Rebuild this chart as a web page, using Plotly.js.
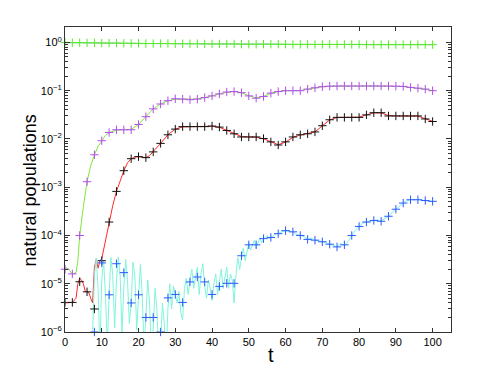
<!DOCTYPE html>
<html>
<head>
<meta charset="utf-8">
<script src="https://cdn.plot.ly/plotly-3.0.1.min.js"></script>
<style>
  html, body { margin: 0; padding: 0; background: #fff; }
  #chart { width: 498px; height: 375px; }
</style>
</head>
<body>
<div id="chart"></div>
<script>
// sample times of the simulated populations (markers)
var tMark = [0, 2, 4, 6, 8, 10, 12, 14, 16, 18, 20, 22, 24, 26, 28, 30, 32, 34, 36, 38, 40,
    42, 44, 46, 48, 50, 52, 54, 56, 58, 60, 62, 64, 66, 68, 70, 72, 74, 76, 78, 80,
    82, 84, 86, 88, 90, 92, 94, 96, 98, 100];

var greenMark = [1.0, 0.99, 0.99, 0.98, 0.98, 0.97, 0.97, 0.97, 0.96, 0.96, 0.96,
    0.95, 0.95, 0.95, 0.95, 0.94, 0.94, 0.94, 0.94, 0.93, 0.93,
    0.93, 0.93, 0.93, 0.92, 0.92, 0.92, 0.92, 0.92, 0.92, 0.92,
    0.91, 0.91, 0.91, 0.91, 0.91, 0.91, 0.91, 0.91, 0.91, 0.91,
    0.90, 0.90, 0.90, 0.90, 0.90, 0.90, 0.90, 0.90, 0.90, 0.90];

var purpleMark = [2.0e-5, 1.6e-5, 1.0e-4, 1.3e-3, 4.7e-3, 9.2e-3, 0.0136, 0.0155, 0.0155, 0.0155, 0.020,
    0.029, 0.042, 0.053, 0.062, 0.068, 0.067, 0.065, 0.067, 0.072, 0.078,
    0.086, 0.094, 0.096, 0.091, 0.078, 0.070, 0.076, 0.089, 0.096, 0.100,
    0.100, 0.100, 0.108, 0.115, 0.121, 0.124, 0.125, 0.125, 0.125, 0.125,
    0.125, 0.125, 0.125, 0.125, 0.124, 0.123, 0.117, 0.113, 0.108, 0.100];

var blackMark = [4.1e-6, 4.1e-6, 1.1e-5, 6.8e-6, 3.0e-6, 3.0e-5, 1.9e-4, 8.2e-4, 2.2e-3, 3.9e-3, 4.3e-3,
    4.1e-3, 5.4e-3, 8.1e-3, 0.0122, 0.016, 0.018, 0.018, 0.018, 0.018, 0.0185,
    0.0176, 0.015, 0.0128, 0.011, 0.011, 0.011, 0.0102, 0.0087, 0.0075, 0.0087,
    0.011, 0.0122, 0.0128, 0.014, 0.0188, 0.025, 0.028, 0.028, 0.028, 0.028,
    0.0316, 0.035, 0.035, 0.030, 0.030, 0.030, 0.030, 0.030, 0.026, 0.023];

var blueMark = [null, null, null, null, 1.0e-6, 2.7e-5, 5.9e-6, 2.6e-5, 1.7e-5, 4.0e-6, 5.9e-6,
    2.0e-6, 2.0e-6, 1.0e-6, 5.1e-6, 6.0e-6, 4.1e-6, 1.09e-5, 1.38e-5, 1.09e-5, 6.0e-6,
    8.8e-6, 1.02e-5, 1.02e-5, 3.8e-5, 6.4e-5, 6.4e-5, 8.6e-5, 9.1e-5, 1.09e-4, 1.26e-4,
    1.19e-4, 1.0e-4, 8.3e-5, 8.0e-5, 7.4e-5, 6.6e-5, 5.8e-5, 6.4e-5, 1.0e-4, 1.54e-4,
    1.9e-4, 2.05e-4, 1.97e-4, 2.5e-4, 3.5e-4, 4.7e-4, 5.5e-4, 5.5e-4, 5.3e-4, 5.1e-4];

// exact (deterministic) solutions drawn as lines
var topLine = [0.99, 0.99, 0.98, 0.98, 0.97, 0.97, 0.97, 0.96, 0.96, 0.96, 0.95,
    0.95, 0.95, 0.95, 0.94, 0.94, 0.94, 0.94, 0.93, 0.93, 0.93,
    0.93, 0.93, 0.92, 0.92, 0.92, 0.92, 0.92, 0.92, 0.92, 0.91,
    0.91, 0.91, 0.91, 0.91, 0.91, 0.91, 0.91, 0.91, 0.91, 0.90,
    0.90, 0.90, 0.90, 0.90, 0.90, 0.90, 0.90, 0.90, 0.90, 0.90];

var tGreen = [0, 1, 2, 3, 3.5, 4, 5, 6, 7, 8, 9, 10, 11, 12, 14, 16, 18, 20, 22, 24, 26, 28, 30,
    32, 34, 36, 38, 40, 42, 44, 46, 48, 50, 52, 54, 56, 58, 60, 62, 64, 66, 68, 70,
    72, 74, 76, 78, 80, 82, 84, 86, 88, 90, 92, 94, 96, 98, 100];
var greenLine = [2.2e-5, 2.0e-5, 1.6e-5, 1.7e-5, 3.0e-5, 1.0e-4, 4.0e-4, 1.3e-3, 2.8e-3, 4.7e-3, 7.0e-3, 9.2e-3, 0.0118, 0.0136,
    0.0152, 0.0155, 0.0158, 0.020, 0.029, 0.042, 0.053, 0.062, 0.067,
    0.067, 0.066, 0.067, 0.072, 0.078, 0.086, 0.093, 0.096, 0.091, 0.079, 0.071, 0.076, 0.088, 0.096, 0.100,
    0.100, 0.101, 0.107, 0.115, 0.121, 0.124, 0.125, 0.125, 0.125, 0.125, 0.125, 0.125, 0.125, 0.125,
    0.124, 0.122, 0.117, 0.113, 0.107, 0.100];

var tRed = [0, 1, 2, 3, 3.5, 4, 4.5, 5, 5.5, 6, 6.5, 7, 7.5, 8, 8.5, 9, 9.5, 10, 11, 12, 13, 14, 15, 16, 17, 18, 19,
    20, 21, 22, 23, 24, 26, 28, 30, 32, 34, 36, 38, 40, 42, 44, 46, 48, 50, 52, 54, 56, 58, 60,
    62, 64, 66, 68, 70, 72, 74, 76, 78, 80, 82, 84, 86, 88, 90, 92, 94, 96, 98, 100];
var redLine = [4.0e-6, 4.0e-6, 4.1e-6, 5.0e-6, 1.0e-5, 1.3e-5, 1.2e-5, 1.0e-5, 7.0e-6, 6.8e-6, 6.5e-6, 5.0e-6, 4.0e-6,
    2.2e-5, 3.2e-5, 2.1e-5, 3.0e-5, 3.3e-5, 8.0e-5, 1.9e-4, 4.2e-4, 8.2e-4, 1.4e-3, 2.2e-3, 3.2e-3, 3.9e-3, 4.2e-3,
    4.3e-3, 4.2e-3, 4.1e-3, 4.5e-3, 5.4e-3, 8.1e-3, 0.0122, 0.016, 0.0178, 0.018, 0.018, 0.0182, 0.0184,
    0.0175, 0.0151, 0.0128, 0.0112, 0.011, 0.0109, 0.0101, 0.0088, 0.0076, 0.0086,
    0.0108, 0.0121, 0.0128, 0.014, 0.0187, 0.0248, 0.0279, 0.028, 0.028, 0.0283, 0.0315, 0.0348, 0.0348,
    0.0305, 0.030, 0.030, 0.030, 0.0298, 0.0262, 0.0232];

var tCyan = [7, 7.5, 8, 8.5, 9, 9.5, 10, 10.5, 11, 11.5, 12, 12.5, 13, 13.5, 14, 14.5, 15, 15.5, 16, 16.5,
    17, 17.5, 18, 18.5, 19, 19.5, 20, 20.5, 21, 21.5, 22, 22.5, 23, 23.5, 24, 24.5, 25, 25.5, 26, 26.5,
    27, 27.5, 28, 28.5, 29, 29.5, 30, 30.5, 31, 31.5, 32, 32.5, 33, 33.5, 34, 34.5, 35, 35.5, 36, 36.5,
    37, 37.5, 38, 38.5, 39, 39.5, 40, 40.5, 41, 41.5, 42, 42.5, 43, 43.5, 44, 44.5, 45, 45.5, 46, 46.5,
    47, 47.5, 48, 48.5, 49, 49.5, 50, 50.5, 51, 51.5, 52, 52.5, 53, 53.5, 54, 55, 55.5, 56, 57, 58, 59,
    60, 61, 62, 63, 64, 65, 66, 67, 68, 69, 70, 71, 72, 73, 74, 75, 76, 77, 78, 79, 80, 81, 82, 83, 84,
    85, 86, 87, 88, 89, 90, 91, 92, 93, 94, 95, 96, 97, 98, 99, 100];
var cyanLine = [2e-7, 8e-7, 1.5e-5, 3.4e-5, 8e-6, 4e-7, 1.2e-5, 3.0e-5, 6e-6, 5e-7, 6e-6, 3.5e-5, 1.5e-5, 1.2e-6,
    1.2e-5, 3.6e-5, 1.5e-5, 1e-6, 8e-6, 3.2e-5, 1.2e-5, 1.5e-6, 4e-6, 2.8e-5, 1.5e-5, 1.1e-6,
    5e-6, 2.5e-5, 6e-6, 5e-7, 2e-6, 1.2e-5, 4e-6, 4e-7, 1.2e-6, 8e-6, 3e-6, 3e-7, 5e-7, 4e-6,
    1.5e-6, 3e-7, 3e-6, 1e-5, 3e-6, 9e-6, 6e-6, 4e-6, 7e-6, 2.5e-6, 1.8e-6, 8e-6, 1.3e-5, 6e-6,
    1.2e-5, 2e-5, 8e-6, 1.5e-5, 2.2e-5, 6e-6, 1.6e-5, 2.6e-5, 9e-6, 5e-6, 1.2e-5, 8e-6, 4.5e-6,
    1e-5, 1.6e-5, 6e-6, 1.2e-5, 2e-5, 8e-6, 1.4e-5, 2.2e-5, 8e-6, 1.6e-5, 1.2e-5, 4e-6, 1.5e-5,
    3.5e-5, 2e-5, 3.5e-5, 5.5e-5, 3e-5, 5e-5, 7e-5, 5e-5, 6.5e-5, 8e-5, 5.5e-5, 7e-5, 9e-5, 7e-5,
    8.5e-5, 1.0e-4, 8.5e-5, 9e-5, 1.05e-4, 1.1e-4, 1.2e-4,
    1.25e-4, 1.22e-4, 1.18e-4, 1.05e-4, 1.0e-4, 9.5e-5, 8.3e-5, 8.8e-5, 8e-5, 7.8e-5, 7.4e-5, 7.2e-5,
    6.6e-5, 6.3e-5, 5.8e-5, 6.8e-5, 6.2e-5, 7.5e-5, 1.0e-4, 1.3e-4, 1.55e-4, 1.8e-4, 1.9e-4, 1.95e-4,
    2.05e-4, 2.1e-4, 2.0e-4, 2.2e-4, 2.5e-4, 3.0e-4, 3.5e-4, 4.1e-4, 4.7e-4, 5.2e-4, 5.6e-4, 5.5e-4,
    5.6e-4, 5.4e-4, 5.3e-4, 5.2e-4, 5.1e-4];

var xTicks = [0, 10, 20, 30, 40, 50, 60, 70, 80, 90, 100];
var yTickVals = [1e-6, 1e-5, 1e-4, 1e-3, 1e-2, 1e-1, 1];
var yTickText = ['10<sup>\u22126</sup>', '10<sup>\u22125</sup>', '10<sup>\u22124</sup>', '10<sup>\u22123</sup>',
    '10<sup>\u22122</sup>', '10<sup>\u22121</sup>', '10<sup>0</sup>'];

// minor ticks 2..9 of every decade
var minorVals = [];
for (var d = -6; d < 1; d++) {
    for (var m = 2; m <= 9; m++) {
        minorVals.push(m * Math.pow(10, d));
    }
}

function lineTrace(x, y, color) {
    return { x: x, y: y, mode: 'lines', type: 'scatter', line: { color: color, width: 1 }, hoverinfo: 'skip' };
}

function markTrace(y, color) {
    return {
        x: tMark, y: y, mode: 'markers', type: 'scatter', cliponaxis: false,
        marker: { symbol: 'cross-thin', size: 6, color: color, line: { color: color, width: 1 } }
    };
}

var data = [
    lineTrace(tMark, topLine, '#7fb0c8'),
    lineTrace(tGreen, greenLine, '#7ee83a'),
    lineTrace(tRed, redLine, '#ff2a2a'),
    lineTrace(tCyan, cyanLine, '#80f5dc'),
    markTrace(greenMark, '#55ee22'),
    markTrace(purpleMark, '#b54cf0'),
    markTrace(blackMark, '#111111'),
    markTrace(blueMark, '#2a5cff')
];

var fontFam = 'Liberation Sans, Arial, sans-serif';
var axisFont = { family: fontFam, size: 11, color: '#000' };

var layout = {
    width: 498,
    height: 375,
    showlegend: false,
    paper_bgcolor: '#fff',
    plot_bgcolor: '#fff',
    margin: { l: 65, r: 47, t: 27, b: 43 },
    xaxis: {
        range: [0, 105],
        tickmode: 'array',
        tickvals: xTicks,
        ticks: 'inside',
        ticklen: 4,
        tickcolor: '#333',
        showline: true,
        linecolor: '#333',
        linewidth: 1,
        mirror: 'ticks',
        showgrid: false,
        zeroline: false,
        tickfont: axisFont
    },
    yaxis: {
        type: 'log',
        range: [-6, 0.32],
        tickmode: 'array',
        tickvals: yTickVals,
        ticktext: yTickText,
        ticks: 'inside',
        ticklen: 5,
        tickcolor: '#333',
        minor: { tickmode: 'array', tickvals: minorVals, ticks: 'inside', ticklen: 3, tickcolor: '#333', showgrid: false },
        showline: true,
        linecolor: '#333',
        linewidth: 1,
        mirror: 'ticks',
        showgrid: false,
        zeroline: false,
        tickfont: axisFont
    },
    // axis titles placed as annotations to match their offset positions
    annotations: [
        {
            text: 'natural populations', xref: 'paper', yref: 'paper', x: -0.09, y: 0.465,
            xanchor: 'center', yanchor: 'middle', textangle: -90, showarrow: false,
            font: { family: fontFam, size: 18, color: '#000' }
        },
        {
            text: 't', xref: 'paper', yref: 'paper', x: 0.534, y: -0.075,
            xanchor: 'center', yanchor: 'middle', showarrow: false,
            font: { family: fontFam, size: 20, color: '#000' }
        }
    ]
};

Plotly.newPlot('chart', data, layout, { staticPlot: true });
</script>
</body>
</html>
